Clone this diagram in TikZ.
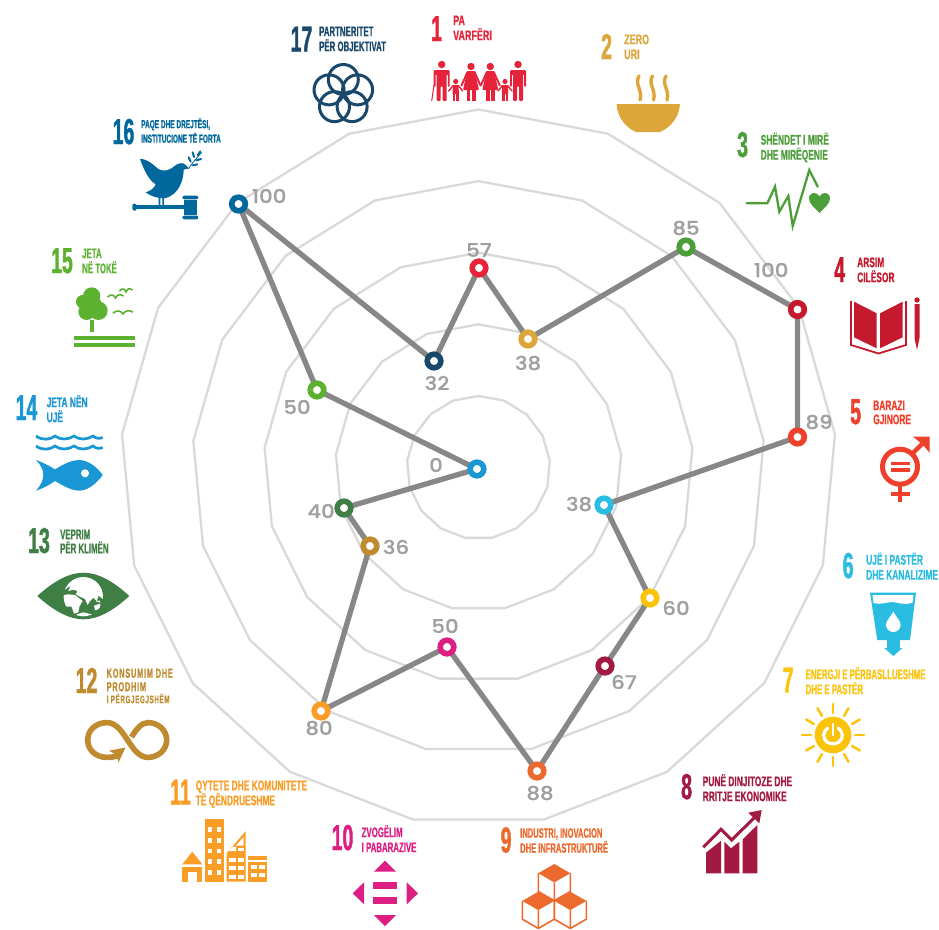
\documentclass[tikz,border=0pt]{standalone}
\usepackage{fontspec}
\usetikzlibrary{backgrounds}
\newfontfamily\condN[FakeStretch=0.54,FakeBold=1.2]{Liberation Sans Bold}
\newfontfamily\condA[FakeStretch=0.56,FakeBold=0.6]{Liberation Sans Bold}
\newfontfamily\condB[FakeStretch=0.60,FakeBold=0.6]{Liberation Sans Bold}
\newfontfamily\condC[FakeStretch=0.64,FakeBold=0.6]{Liberation Sans Bold}
\newfontfamily\condW[FakeStretch=0.565,FakeBold=0.6,LetterSpace=6]{Liberation Sans Bold}
\newfontfamily\numfont[FakeStretch=1.12,FakeBold=0.4]{Poppins Medium}
\definecolor{c1}{HTML}{E5243B}\definecolor{c2}{HTML}{DDA63A}\definecolor{c3}{HTML}{4C9F38}
\definecolor{c4}{HTML}{C5192D}\definecolor{c5}{HTML}{EF402B}\definecolor{c6}{HTML}{2BBCE2}
\definecolor{c7}{HTML}{FCC30B}\definecolor{c8}{HTML}{A21942}\definecolor{c9}{HTML}{ED6A2E}
\definecolor{c10}{HTML}{DD1E82}\definecolor{c11}{HTML}{F99D26}\definecolor{c12}{HTML}{BF8B2E}
\definecolor{c13}{HTML}{3F7E44}\definecolor{c14}{HTML}{1A97D5}\definecolor{c15}{HTML}{5DB130}
\definecolor{c16}{HTML}{00689D}\definecolor{c17}{HTML}{19486A}
\definecolor{ringgray}{HTML}{D9D9D9}\definecolor{edgegray}{HTML}{878787}\definecolor{valgray}{HTML}{A0A0A0}
\tikzset{
  mk/.style={circle,draw=#1,fill=white,line width=5.6pt,minimum size=13.6pt,inner sep=0pt},
  valtext/.style={text=valgray,font=\numfont\fontsize{19}{19}\selectfont,inner sep=0pt},
  ringline/.style={draw=ringgray,line width=2.3pt,line join=round},
  edgeline/.style={draw=edgegray,line width=5.3pt,line cap=round}
}
\newcommand\sdgnum[5]{\node[anchor=base west,inner sep=0pt,text=#2,font=\condN\fontsize{36}{36}\selectfont] (n#1) at (#3,#4) {#5};}
\newcommand\sdgtext[8][\condB]{\node[anchor=north west,inner sep=0pt,align=left,text=#3,font=#1\fontsize{#6}{#7}\selectfont] (t#2) at (#4,#5-10) {\rule{0pt}{10pt}#8};}
\newcommand\manicon[2]{\begin{scope}[shift={(#1,#2)}]
  \fill (0,-36.5) circle (3.7);
  \fill[rounded corners=1.2pt] (-8,-31) -- (8,-31) -- (8,-14) -- (6.2,-14) -- (6.2,-27) -- (5,-27) -- (5,0) -- (1,0) -- (1,-15) -- (-1,-15) -- (-1,0) -- (-5,0) -- (-5,-27) -- (-6.2,-27) -- (-6.2,-14) -- (-8,-14) -- cycle;
\end{scope}}
\newcommand\womanicon[2]{\begin{scope}[shift={(#1,#2)}]
  \fill (0,-34.5) circle (3.7);
  \fill[rounded corners=1pt] (-3.8,-30) -- (3.8,-30) -- (8,-11) -- (-8,-11) -- cycle;
  \fill (-4.5,-11.5) rectangle (-0.8,0); \fill (0.8,-11.5) rectangle (4.5,0);
  \draw[line width=1.9pt,line cap=round] (-3.5,-29) -- (-9.5,-15.5) (3.5,-29) -- (9.5,-15.5);
\end{scope}}
\newcommand\childicon[2]{\begin{scope}[shift={(#1,#2)}]
  \fill (0,-19.5) circle (2.6);
  \fill (-2.8,-16) -- (2.8,-16) -- (3.2,-7) -- (-3.2,-7) -- cycle;
  \fill (-2.8,-7.5) rectangle (-0.5,0); \fill (0.5,-7.5) rectangle (2.8,0);
  \draw[line width=1.4pt,line cap=round] (-2.5,-15.5) -- (-7,-10) (2.5,-15.5) -- (7,-10);
\end{scope}}
\newcommand\cubeicon[2]{\begin{scope}[shift={(#1,#2)}]
  \fill (0,0) -- (16,9.2) -- (0,18.4) -- (-16,9.2) -- cycle;
  \draw[line width=1.6pt,line join=round] (-16,9.2) -- (-16,27.5) -- (0,36.7) -- (16,27.5) -- (16,9.2) (0,18.4) -- (0,36.7);
\end{scope}}
\newcommand\wavy[1]{\draw[c14,line width=2.7pt] (36,#1) .. controls (42,#1+4.5) and (50,#1+4) .. (55,#1) .. controls (60,#1+4) and (68,#1+4) .. (74,#1) .. controls (79,#1+4) and (87,#1+4) .. (93,#1) .. controls (96,#1+2.5) and (99,#1+3) .. (102.7,#1+1.5);}
\newcommand\birdicon[3]{\draw[line width=1.6pt,c15] (#1-#3,#2+1) .. controls (#1-#3*0.5,#2-2.5) and (#1-#3*0.2,#2-1) .. (#1,#2+2) .. controls (#1+#3*0.2,#2-1) and (#1+#3*0.5,#2-2.5) .. (#1+#3,#2);}
\begin{document}
\begin{tikzpicture}[x=1pt,y=-1pt]
\useasboundingbox (0,0) rectangle (939,929);
% markers
\node[mk=c1] (m1) at (479,268) {};
\node[mk=c2] (m2) at (528,339) {};
\node[mk=c3] (m3) at (686,247) {};
\node[mk=c4] (m4) at (797.5,309.5) {};
\node[mk=c5] (m5) at (797.5,437) {};
\node[mk=c6] (m6) at (604,505) {};
\node[mk=c7] (m7) at (650,598) {};
\node[mk=c8] (m8) at (605,666) {};
\node[mk=c9] (m9) at (537,771) {};
\node[mk=c10] (m10) at (447,647) {};
\node[mk=c11] (m11) at (321,711) {};
\node[mk=c12] (m12) at (370,546) {};
\node[mk=c13] (m13) at (344,508) {};
\node[mk=c14] (m14) at (477,469) {};
\node[mk=c15] (m15) at (317,390) {};
\node[mk=c16] (m16) at (238.5,204) {};
\node[mk=c17] (m17) at (434,361) {};
\begin{pgfonlayer}{background}
\fill[white] (0,0) rectangle (939,929);
\foreach \r in {71.6,143.2,214.8,286.4,358}
  \draw[ringline] plot[samples=18,domain=0:17] ({478.5+\r*sin(\x*360/17)},{467.5-\r*cos(\x*360/17)}) -- cycle;
\draw[edgeline] (m17.center) -- (m1.center) -- (m2.center) -- (m3.center) -- (m4.center) -- (m5.center) -- (m6.center) -- (m7.center) -- (m8.center) -- (m9.center) -- (m10.center) -- (m11.center) -- (m12.center) -- (m13.center) -- (m14.center) -- (m15.center) -- (m16.center) -- (m17.center);
\end{pgfonlayer}
% values
\node[valtext] (v1) at (479,250) {57};
\node[valtext] (v2) at (528,363) {38};
\node[valtext] (v3) at (686,228) {85};
\node[valtext] (v4) at (771,270) {100};
\node[valtext] (v5) at (819,422) {89};
\node[valtext] (v6) at (579,504) {38};
\node[valtext] (v7) at (676,608) {60};
\node[valtext] (v8) at (624,682) {67};
\node[valtext] (v9) at (540,793) {88};
\node[valtext] (v10) at (445,626) {50};
\node[valtext] (v11) at (319,728) {80};
\node[valtext] (v12) at (396,547) {36};
\node[valtext] (v13) at (321,511) {40};
\node[valtext] (v14) at (436,465) {0};
\node[valtext] (v15) at (297,407) {50};
\node[valtext] (v16) at (269,196) {100};
\node[valtext] (v17) at (437,383) {32};
% titles
\sdgnum{1}{c1}{431}{41}{1}
\sdgtext[\condC]{1}{c1}{453}{25}{14}{15}{PA\\VARFËRI}
\sdgnum{2}{c2}{601}{59}{2}
\sdgtext[\condC]{2}{c2}{624}{44}{14}{15}{ZERO\\URI}
\sdgnum{3}{c3}{737}{157}{3}
\sdgtext{3}{c3}{760.5}{142.5}{14}{15}{SHËNDET I MIRË\\DHE MIRËQENIE}
\sdgnum{4}{c4}{834}{282}{4}
\sdgtext{4}{c4}{857}{267}{14}{15}{ARSIM\\CILËSOR}
\sdgnum{5}{c5}{850}{424}{5}
\sdgtext{5}{c5}{873}{410}{14}{14}{BARAZI\\GJINORE}
\sdgnum{6}{c6}{842.5}{578}{6}
\sdgtext{6}{c6}{866}{562.5}{14}{15}{UJË I PASTËR\\DHE KANALIZIME}
\sdgnum{7}{c7}{782.5}{692.5}{7}
\sdgtext[\condA]{7}{c7}{805.5}{677}{14}{15}{ENERGJI E PËRBASLLUESHME\\DHE E PASTËR}
\sdgnum{8}{c8}{681}{799}{8}
\sdgtext{8}{c8}{702.5}{784}{14}{15}{PUNË DINJITOZE DHE\\RRITJE EKONOMIKE}
\sdgnum{9}{c9}{500.5}{852.5}{9}
\sdgtext[\condA]{9}{c9}{520}{837.5}{13.5}{15}{INDUSTRI, INOVACION\\DHE INFRASTRUKTURË}
\sdgnum{10}{c10}{331.5}{850}{10}
\sdgtext[\condA]{10}{c10}{361.5}{835}{14}{15}{ZVOGËLIM\\I PABARAZIVE}
\sdgnum{11}{c11}{170}{804.5}{11}
\sdgtext{11}{c11}{195.5}{790}{14}{15}{QYTETE DHE KOMUNITETE\\TË QËNDRUESHME}
\sdgnum{12}{c12}{75.5}{693}{12}
\sdgtext[\condW]{12}{c12}{106.5}{677.5}{13}{13.5}{KONSUMIM DHE\\PRODHIM\\[-1.5pt]{\fontsize{11}{11}\selectfont I PËRGJEGJSHËM}}
\sdgnum{13}{c13}{28}{553}{13}
\sdgtext[\condA]{13}{c13}{60}{539}{14}{14}{VEPRIM\\PËR KLIMËN}
\sdgnum{14}{c14}{15.5}{420}{14}
\sdgtext{14}{c14}{46.5}{405}{14}{15}{JETA NËN\\UJË}
\sdgnum{15}{c15}{51}{273}{15}
\sdgtext[\condA]{15}{c15}{82}{258}{14}{15}{JETA\\NË TOKË}
\sdgnum{16}{c16}{112.5}{144}{16}
\sdgtext[\condA]{16}{c16}{141}{128}{11.6}{14.5}{PAQE DHE DREJTËSI,\\INSTITUCIONE TË FORTA}
\sdgnum{17}{c17}{290.5}{51.5}{17}
\sdgtext[\condA]{17}{c17}{319}{36}{14}{15}{PARTNERITET\\PËR OBJEKTIVAT}
% icon 1
\begin{scope}[c1,fill=c1,draw=c1]
\manicon{441.7}{101}\womanicon{471}{101}\womanicon{490.3}{101}\manicon{518}{101}\childicon{455.7}{101}\childicon{505}{101}
\draw[line width=1pt] (434,85) -- (431.7,101);
\end{scope}
% icon 2
\fill[c2] (616.5,104) -- (680,104) .. controls (679,119) and (669,128) .. (660,132) -- (636,132) .. controls (627,128) and (617.5,119) .. (616.5,104) -- cycle;
\draw[c2,line width=3.4pt,line cap=round] (639,76) .. controls (634,84) and (643,90) .. (640,100) (652.5,76) .. controls (647.5,84) and (656.5,90) .. (653.5,100) (666,76) .. controls (661,84) and (670,90) .. (667,100);
% icon 3
\draw[c3,line width=2.3pt,line cap=round,line join=miter] (746.7,203.3) -- (767.3,203.3) -- (775,186.7) -- (779.3,211.7) -- (788.3,196) -- (792.7,226) -- (809.3,170) -- (817.7,186.7);
\fill[c3] (819.5,213) .. controls (815,208) and (809,204) .. (809,198.5) .. controls (809,192) and (817,191) .. (819.5,196.5) .. controls (822,191) and (830,192) .. (830,198.5) .. controls (830,204) and (824,208) .. (819.5,213) -- cycle;
% icon 4
\fill[c4] (854,301.7) -- (876.7,313.3) -- (876.7,348.3) -- (854,337.3) -- cycle;
\fill[c4] (880,313.3) -- (902.7,301.7) -- (902.7,337.3) -- (880,348.3) -- cycle;
\draw[c4,line width=1.8pt] (851,301) -- (851,345) -- (878.5,353.5) -- (906,345) -- (906,301);
\fill[c4] (917,300) circle (2.7);
\fill[c4] (914.5,304) -- (919.5,304) -- (919.5,338) -- (917,350) -- (914.5,338) -- cycle;
% icon 5
\draw[c5,line width=5pt] (900,466.7) circle (17.5);
\fill[c5] (891,461.7) rectangle (910,465);
\fill[c5] (891,468.3) rectangle (910,471.7);
\draw[c5,line width=4.2pt] (900,484) -- (900,501.7) (890.5,494) -- (910,494);
\draw[c5,line width=4.5pt] (913,453) -- (925,441);
\fill[c5] (912.7,436.5) -- (929.5,436.5) -- (929.5,452.7) -- (924,446) -- (919,441.5) -- cycle;
% icon 6
\fill[c6] (870,592.7) -- (916,592.7) -- (910,640) -- (877.3,640) -- cycle;
\fill[white] (872.5,595) -- (913.5,595) -- (912.6,602.5) .. controls (904,606) and (898,602) .. (892,602) .. controls (885,602.5) and (880,605) .. (873.5,603) -- cycle;
\fill[white] (893.3,611.5) .. controls (891,617) and (886,620) .. (886,625) .. controls (886,629) and (889.5,632) .. (893.3,632) .. controls (897,632) and (900.6,629) .. (900.6,625) .. controls (900.6,620) and (895.6,617) .. (893.3,611.5) -- cycle;
\fill[c6] (887,640) rectangle (899.5,648.5);
\fill[c6] (884.3,648) -- (902.3,648) -- (893.3,656) -- cycle;
% icon 7
\fill[c7] (833,735) circle (18.3);
\begin{scope}[shift={(833,735)}]
\draw[white,line width=3.2pt,line cap=round] (5.2,-7) .. controls (10.5,-3.5) and (10.5,4) .. (6,7) .. controls (2,9.5) and (-2,9.5) .. (-6,7) .. controls (-10.5,4) and (-10.5,-3.5) .. (-5.2,-7);
\draw[c7,line width=5.5pt] (0,-12) -- (0,0);
\draw[white,line width=2.6pt,line cap=round] (0,-11) -- (0,0);
\foreach \a in {0,30,...,330}
  \draw[c7,line width=2.5pt,line cap=round] (\a:22) -- (\a:31);
\end{scope}
% icon 8
\fill[c8] (706,873.3) -- (706,852.7) -- (721,840.7) -- (721,873.3) -- cycle;
\fill[c8] (724.3,873.3) -- (724.3,841.7) -- (731,848.3) -- (739.3,841.7) -- (739.3,873.3) -- cycle;
\fill[c8] (742.7,873.3) -- (742.7,839.3) -- (757.3,825) -- (757.3,873.3) -- cycle;
\draw[c8,line width=3pt] (703.3,847.3) -- (721,829.3) -- (731.7,840) -- (756,816);
\fill[c8] (748.3,812.7) -- (761.7,810) -- (759.3,823.3) -- cycle;
% icon 9
\begin{scope}[c9,fill=c9,draw=c9]
\cubeicon{554.3}{864}\cubeicon{538.3}{891.7}\cubeicon{570.3}{891.7}
\end{scope}
% icon 10
\fill[c10] (385,860.7) -- (374,871.7) -- (396,871.7) -- cycle;
\fill[c10] (374,915) -- (396,915) -- (385,926) -- cycle;
\fill[c10] (364,882.3) -- (364,904.3) -- (352.7,893.3) -- cycle;
\fill[c10] (406.7,882.3) -- (406.7,904.3) -- (418,893.3) -- cycle;
\fill[c10] (373.3,882.3) rectangle (397.3,889.3);
\fill[c10] (373.3,897.3) rectangle (397.3,904.3);
% icon 11
\fill[c11] (192.3,851.7) -- (182.3,864.3) -- (202.3,864.3) -- cycle;
\fill[c11] (182.3,866.7) rectangle (202.3,881.7);
\fill[white] (188.3,871.7) rectangle (196.7,881.7);
\fill[c11] (205,819) rectangle (224,881.7);
\foreach \k in {0,1,2,3,4}{
  \fill[white] (207.7,827.3+10.67*\k) rectangle (212.3,832+10.67*\k);
  \fill[white] (216.7,827.3+10.67*\k) rectangle (221.3,832+10.67*\k);
}
\fill[c11] (226.7,881.7) -- (226.7,853.3) -- (245.7,831) -- (245.7,881.7) -- cycle;
\fill[white] (236,845.5) -- (243.7,837) -- (243.7,845.5) -- cycle;
\fill[white] (229,851) -- (236,851) -- (236,846.5) -- (233,846.5) -- cycle;
\fill[white] (237.5,848) rectangle (243.7,851);
\foreach \k in {0,1,2}{
  \fill[white] (229,857.5+8.5*\k) rectangle (236,861.5+8.5*\k);
  \fill[white] (237.7,857.5+8.5*\k) rectangle (243.7,861.5+8.5*\k);
}
\fill[c11] (248,856) rectangle (267.3,860);
\fill[c11] (248,861.7) rectangle (267.3,881.7);
\fill[white] (250.7,865) rectangle (256.7,869.3);
\fill[white] (258.7,865) rectangle (264.7,869.3);
\fill[white] (250.7,872.7) rectangle (256.7,877.3);
\fill[white] (258.7,872.7) rectangle (264.7,877.3);
% icon 12
\draw[c12,line width=5.6pt] (118,755.5) .. controls (114,757) and (110.5,757.4) .. (107,757.4) .. controls (96,757.4) and (87.7,750) .. (87.7,740) .. controls (87.7,730) and (96,722.6) .. (107,722.6) .. controls (125,722.6) and (130,757.4) .. (148,757.4) .. controls (158,757.4) and (166.7,750) .. (166.7,740) .. controls (166.7,730) and (158,722.6) .. (148,722.6) .. controls (141,722.6) and (136,730) .. (131.5,737);
\fill[c12] (109,750.7) -- (125.5,747.5) -- (118.5,762.5) -- (116.5,755) -- cycle;
% icon 13
\fill[c13] (37.3,596) .. controls (55,580) and (70,572.7) .. (83.3,572.7) .. controls (97,572.7) and (112,580) .. (129.3,596) .. controls (112,612) and (97,619.3) .. (83.3,619.3) .. controls (70,619.3) and (55,612) .. (37.3,596) -- cycle;
\begin{scope}[shift={(40,565)},scale=.3333]
\clip (130,95) circle (59);
\fill[white] (85,50) -- (85,20) -- (180,20) -- (200,60) -- (195,105) -- (186,100) -- (176,92) -- (170,108) -- (160,98) -- (150,108) -- (143,120) -- (135,102) -- (120,95) -- (108,88) -- (112,78) -- (100,74) -- (85,78) -- (92,62) -- (72,76) -- cycle;
\fill[white] (60,92) -- (85,88) -- (105,90) -- (118,100) -- (128,108) -- (118,125) -- (115,142) -- (102,146) -- (95,125) -- (60,125) -- cycle;
\fill[white] (162,122) -- (180,116) -- (184,130) -- (165,136) -- cycle;
\fill[white] (110,148) -- (130,142) -- (155,148) -- (150,165) -- (110,165) -- cycle;
\fill[white] (168,110) -- (178,106) -- (182,113) -- cycle;
\end{scope}
% icon 14
\wavy{436}\wavy{446}
\fill[c14] (36,460) .. controls (44,463) and (50,466) .. (55,469.5) .. controls (65,463) and (73,460) .. (79,460) .. controls (88,460) and (97,467) .. (102.7,475) .. controls (97,483) and (88,490.7) .. (79,490.7) .. controls (73,490.7) and (65,487) .. (55,481) .. controls (50,484.5) and (44,488) .. (36,490.7) .. controls (41,485) and (43.3,480) .. (43.3,475) .. controls (43.3,470) and (41,465) .. (36,460) -- cycle;
\fill[white] (85,473.3) circle (4);
% icon 15
\begin{scope}[shift={(30,240)},scale=.3333]
\fill[c15] (185,168) circle (26) (158,185) circle (20) (170,215) circle (25) (205,212) circle (28) (185,195) circle (30);
\fill[c15] (181,240) rectangle (192,275);
\fill[c15] (132,287) rectangle (315,299);
\fill[c15] (132,309) rectangle (315,321);
\end{scope}
\birdicon{126}{290}{6.5}\birdicon{115.5}{296}{8}\birdicon{123}{312}{10}
% icon 16
\begin{scope}[shift={(125,145)},scale=.3333,c16,fill=c16,draw=c16]
\fill (45,42) .. controls (70,42) and (85,60) .. (100,72) .. controls (120,82) and (135,75) .. (150,62) .. controls (158,55) and (175,50) .. (182,60) -- (192,70) -- (176,74) .. controls (176,100) and (165,150) .. (118,160) .. controls (95,160) and (75,152) .. (62,142) .. controls (75,138) and (88,130) .. (92,118) .. controls (70,105) and (55,70) .. (45,42) -- cycle;
\fill (101,155) rectangle (106,185) (112,155) rectangle (117,185);
\fill[rounded corners=2pt] (22,176) rectangle (35,197);
\fill (30,180) rectangle (178,192);
\fill[rounded corners=2pt] (172,152) rectangle (220,163);
\fill (178,166) rectangle (215,209);
\fill[rounded corners=2pt] (172,212) rectangle (220,223);
\draw[line width=.8pt] (190,72) .. controls (200,55) and (215,40) .. (230,22);
\draw[line width=2pt,line cap=round] (203,22) -- (207,36) (226,19) -- (218,31) (191,37) -- (197,50) (228,42) -- (214,46) (217,58) -- (203,61);
\end{scope}
% icon 17
\foreach \a in {90,162,234,306,18}
  \draw[c17,line width=3pt] ({343.3+15*cos(\a)},{94.5-15*sin(\a)}) circle (15);
\end{tikzpicture}
\end{document}
